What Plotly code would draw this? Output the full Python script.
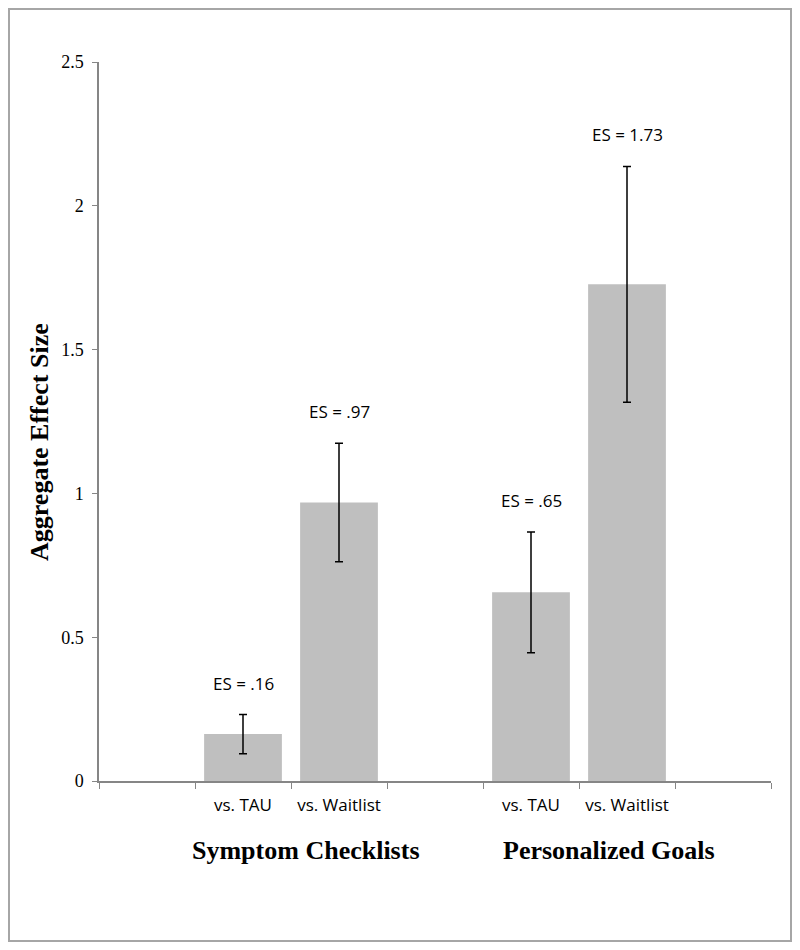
import plotly.graph_objects as go

# ---- data ----
measures = ["Symptom Checklists", "Symptom Checklists", "Personalized Goals", "Personalized Goals"]
comparisons = ["vs. TAU", "vs. Waitlist", "vs. TAU", "vs. Waitlist"]
effect_sizes = [0.163, 0.968, 0.656, 1.727]
ci_half = [0.068, 0.206, 0.210, 0.410]
es_labels = ["ES = .16", "ES = .97", "ES = .65", "ES = 1.73"]
group_names = ["Symptom Checklists", "Personalized Goals"]
y_ticks = [0, 0.5, 1, 1.5, 2, 2.5]
y_tick_text = ["0", "0.5", "1", "1.5", "2", "2.5"]

keys = [m + "|" + c for m, c in zip(measures, comparisons)]
# category slots with empty spacer slots, as in the original layout
cat_array = [" ", keys[0], keys[1], "  ", keys[2], keys[3], "   "]
cat_text = ["", comparisons[0], comparisons[1], "", comparisons[2], comparisons[3], ""]

BAR = "#BFBFBF"
AXIS = "#868686"
SANS = "Open Sans"
SERIF = "Liberation Serif"

# page has an 8px body margin; figure sized to fit in the 800x950 window
W, H = 784, 934
ML, MT = 91, 54
PW, PH = 672, 719
MR, MB = W - ML - PW, H - MT - PH


def px_x(fx):
    return (fx - ML) / PW


def px_y(fy):
    return (MT + PH - fy) / PH


fig = go.Figure()
fig.add_trace(go.Bar(
    x=keys, y=effect_sizes,
    marker=dict(color=BAR, line=dict(width=0)),
    error_y=dict(type="data", array=ci_half, visible=True,
                 color="black", thickness=1.5, width=4),
    hoverinfo="skip",
))

annotations = []
for k, v, e, t in zip(keys, effect_sizes, ci_half, es_labels):
    annotations.append(dict(x=k, y=v + e, xref="x", yref="y", text=t,
                            showarrow=False, yanchor="bottom", yshift=18,
                            font=dict(family=SANS, size=17, color="black")))

annotations.append(dict(x=px_x(306 - 8), y=px_y(850 - 8), xref="paper", yref="paper",
                        text="<b>" + group_names[0] + "</b>", showarrow=False,
                        xanchor="center", yanchor="middle",
                        font=dict(family=SERIF, size=26, color="black")))
annotations.append(dict(x=px_x(609 - 8), y=px_y(850 - 8), xref="paper", yref="paper",
                        text="<b>" + group_names[1] + "</b>", showarrow=False,
                        xanchor="center", yanchor="middle",
                        font=dict(family=SERIF, size=26, color="black")))
annotations.append(dict(x=px_x(40 - 8), y=px_y(442 - 8), xref="paper", yref="paper",
                        text="<b>Aggregate Effect Size</b>", showarrow=False,
                        textangle=-90, xanchor="center", yanchor="middle",
                        font=dict(family=SERIF, size=26, color="black")))

fig.update_layout(
    width=W, height=H,
    margin=dict(l=ML, r=MR, t=MT, b=MB),
    paper_bgcolor="white", plot_bgcolor="white",
    showlegend=False, bargap=0.19,
    annotations=annotations,
    shapes=[dict(type="rect", xref="paper", yref="paper",
                 x0=px_x(1), x1=px_x(W - 1), y0=px_y(H - 1), y1=px_y(1),
                 line=dict(color="#A6A6A6", width=2), fillcolor="rgba(0,0,0,0)",
                 layer="below")],
)
fig.update_xaxes(
    type="category", categoryorder="array", categoryarray=cat_array,
    tickvals=cat_array, ticktext=cat_text, range=[-0.5, 6.5],
    tickson="boundaries", ticks="outside", ticklen=6, tickcolor=AXIS,
    ticklabelstandoff=8,
    showline=True, linecolor=AXIS, linewidth=1.5, showgrid=False,
    tickfont=dict(family=SANS, size=17, color="black"), fixedrange=True,
)
fig.update_yaxes(
    range=[0, 2.5], tickvals=y_ticks, ticktext=y_tick_text,
    ticks="outside", ticklen=5, tickcolor=AXIS, ticklabelstandoff=5,
    showline=True, linecolor=AXIS, linewidth=1.5, showgrid=False, zeroline=False,
    tickfont=dict(family=SERIF, size=18, color="black"), fixedrange=True,
)

fig.write_html("out.html")
